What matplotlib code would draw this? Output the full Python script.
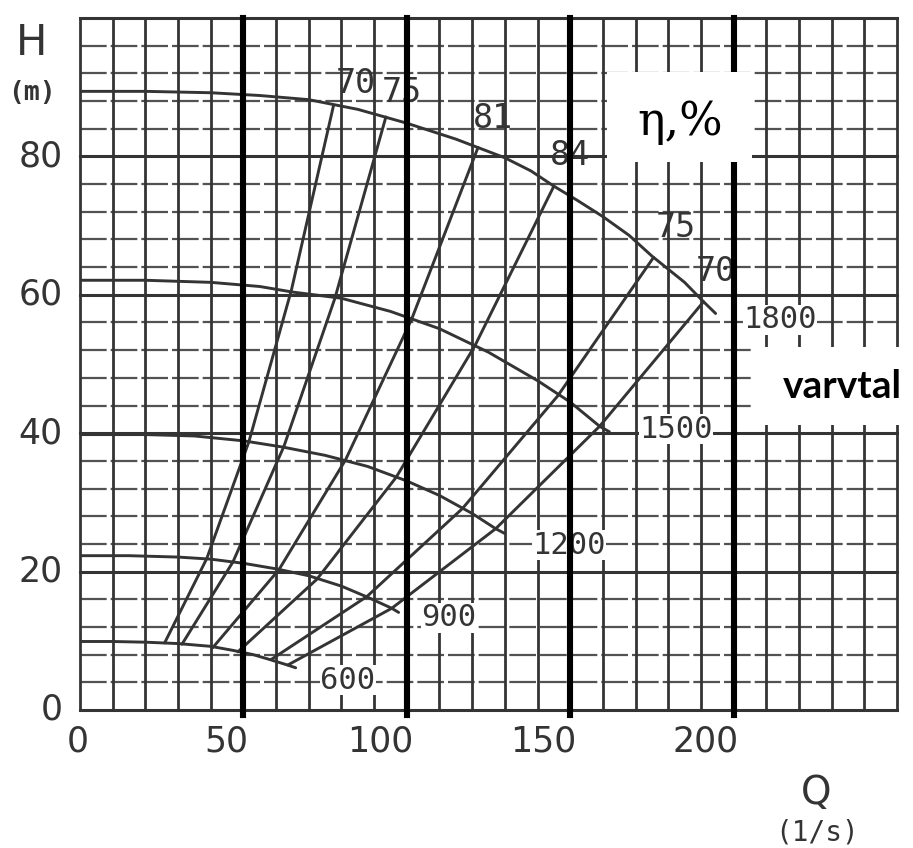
import matplotlib.pyplot as plt
from matplotlib.patches import Rectangle
from matplotlib.transforms import offset_copy

# pump curves, H (m) against Q (l/s), one per speed
rpm_labels = ['600', '900', '1200', '1500', '1800']
q_600 = [0, 10, 20, 30, 40, 47, 53, 58, 63.5, 66]
h_600 = [9.9, 9.9, 9.8, 9.6, 9.2, 8.6, 8.0, 7.3, 6.5, 6.1]
q_900 = [0, 15, 30, 40, 50, 60, 70, 80, 88, 95.4, 97.5]
h_900 = [22.3, 22.3, 22.1, 21.8, 21.2, 20.4, 19.4, 17.9, 16.3, 14.7, 14.1]
q_1200 = [0, 20, 35, 50, 62, 75, 88, 100, 110, 120, 127.2, 130]
h_1200 = [39.8, 39.8, 39.6, 38.9, 38.0, 36.8, 35.2, 33.1, 31.0, 28.4, 26.2, 25.5]
q_1500 = [0, 20, 40, 55, 65, 80, 95, 110, 125, 140, 150, 159, 162]
h_1500 = [62.1, 62.1, 61.8, 61.2, 60.4, 59.5, 57.6, 55.1, 51.7, 47.6, 44.5, 41.0, 40.2]
q_1800 = [0, 20, 40, 55, 70, 85, 100, 115, 130, 138, 145, 152, 160, 168, 175, 185, 190.8, 194.5]
h_1800 = [89.4, 89.4, 89.2, 88.8, 88.2, 86.8, 84.8, 82.5, 79.8, 77.9, 75.7, 73.7, 71.3, 68.6, 65.6, 61.8, 59.0, 57.3]

# iso-efficiency lines, points where they cut the 600..1800 curves
eff_labels = ['70', '75', '81', '84', '75', '70']
eff_q = [
    [25.9, 38.8, 51.7, 64.7, 77.6],
    [31.2, 46.8, 62.4, 78.0, 93.6],
    [40.6, 60.9, 81.2, 101.5, 121.8],
    [48.3, 72.5, 96.7, 120.8, 145.0],
    [58.5, 87.8, 117.0, 146.2, 175.5],
    [63.6, 95.4, 127.2, 159.0, 190.8],
]
eff_h = [
    [9.7, 21.9, 38.8, 60.7, 87.4],
    [9.5, 21.4, 38.1, 59.5, 85.7],
    [9.0, 20.3, 36.1, 56.5, 81.3],
    [8.4, 18.9, 33.6, 52.6, 75.7],
    [7.3, 16.4, 29.1, 45.4, 65.4],
    [6.5, 14.7, 26.2, 41.0, 59.0],
]

x_ticks = [0, 50, 100, 150, 200]
y_ticks = [0, 20, 40, 60, 80]
marked_q = [50, 100, 150, 200]

W, Hpx = 913, 848
ink = '#343434'

fig = plt.figure(figsize=(W / 100, Hpx / 100), dpi=100)
ax = fig.add_axes([80 / W, 1 - 710 / Hpx, 817 / W, 692 / Hpx])
ax.set_xlim(0, 250)
ax.set_ylim(0, 100)
ax.set_axis_off()

# grid paper
for q in range(0, 251, 10):
    ax.axvline(q, color=ink, lw=2.0, zorder=1, clip_on=False)
for h in range(0, 101, 4):
    if h % 20 == 0:
        ax.axhline(h, color=ink, lw=2.2, zorder=1, clip_on=False)
    else:
        ax.axhline(h, color=ink, lw=1.6, ls=(0, (12, 1.8)), zorder=1, alpha=0.85)

# speed curves
for q, h in [(q_600, h_600), (q_900, h_900), (q_1200, h_1200),
             (q_1500, h_1500), (q_1800, h_1800)]:
    ax.plot(q, h, color=ink, lw=2.1, zorder=2, solid_capstyle='round')

# efficiency lines
for q, h in zip(eff_q, eff_h):
    ax.plot(q, h, color=ink, lw=2.1, zorder=2, solid_capstyle='round')

lab_font = dict(family='DejaVu Sans Mono', color=ink, zorder=3,
                ha='center', va='center')
eff_pos = [(84.5, 90.6), (98.5, 89.2), (126.5, 85.5), (150.0, 80.1),
           (182.4, 69.7), (194.6, 63.3)]
for txt, (x, y) in zip(eff_labels, eff_pos):
    ax.text(x, y, txt, fontsize=24, **lab_font)
rpm_pos = [(82.0, 4.3), (112.9, 13.3), (149.6, 23.8), (182.4, 40.6), (214.2, 56.4)]
for txt, (x, y) in zip(rpm_labels, rpm_pos):
    t = ax.text(x, y, txt, fontsize=22, **lab_font)
    t.set_bbox(dict(facecolor='white', edgecolor='none', pad=0.2))

# thick marker lines drawn over the scan
for q in marked_q:
    ax.axvline(q, ymin=-0.007, ymax=1.0, color='black', lw=4.4, zorder=4, clip_on=False)

# tick labels
x_shift_px = [-2, -17, -27, -27, -28]
for v, dx in zip(x_ticks, x_shift_px):
    tr = offset_copy(ax.get_xaxis_transform(), fig=fig, x=dx * 0.72, units='points')
    ax.text(v, -0.046, str(v), transform=tr, ha='center', va='center',
            fontsize=25, color=ink, clip_on=False)
for v in y_ticks:
    ax.text(-0.021, v, str(v), transform=ax.get_yaxis_transform(), ha='right',
            va='center', fontsize=25, color=ink, clip_on=False)

# axis names
fig.text(32 / W, 1 - 43 / Hpx, 'H', fontsize=30, color=ink, ha='center', va='center',
         family=['Liberation Sans Narrow', 'DejaVu Sans'])
fig.text(32 / W, 1 - 93 / Hpx, '(m)', fontsize=19, color=ink, ha='center', va='center',
         family='DejaVu Sans Mono', fontweight='bold')
fig.text(816 / W, 1 - 793 / Hpx, 'Q', fontsize=28, color=ink, ha='center', va='center',
         family=['Liberation Sans Narrow', 'DejaVu Sans'])
fig.text(817 / W, 1 - 832 / Hpx, '(1/s)', fontsize=20, color=ink, ha='center', va='center',
         family='DejaVu Sans Mono')

# white overlay boxes
for x0, y0, x1, y1 in [(607, 72, 752, 162), (752, 347, 913, 425)]:
    fig.patches.append(Rectangle((x0 / W, 1 - y1 / Hpx), (x1 - x0) / W, (y1 - y0) / Hpx,
                                 transform=fig.transFigure, facecolor='white',
                                 edgecolor='none', zorder=10))
fig.text(680 / W, 1 - 122 / Hpx, 'η,%', fontsize=33, color='black', ha='center',
         va='center', family='DejaVu Serif', zorder=11)
fig.text(842 / W, 1 - 386 / Hpx, 'varvtal', fontsize=28, color='black', ha='center',
         va='center', family='Lato', fontweight='bold', zorder=11)

fig.savefig('out.png', dpi=100, facecolor='white')
